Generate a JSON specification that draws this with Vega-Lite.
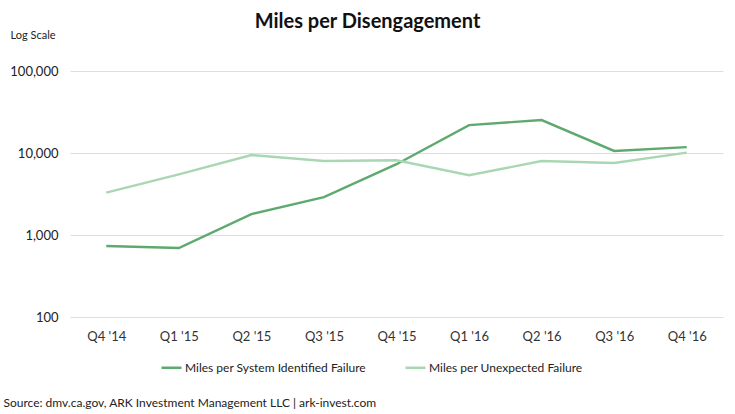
{
  "$schema": "https://vega.github.io/schema/vega-lite/v6.json",
  "width": 653,
  "height": 246,
  "autosize": {"type": "none"},
  "padding": {"left": 70, "top": 71, "right": 12, "bottom": 97},
  "background": "white",
  "config": {
    "view": {"stroke": null},
    "font": "Lato"
  },
  "title": {
    "text": "Miles per Disengagement",
    "anchor": "middle",
    "frame": "group",
    "dx": -29,
    "offset": -3,
    "fontSize": 20,
    "fontWeight": "bold",
    "font": "Lato",
    "color": "#111111"
  },
  "data": {
    "values": [
      {"quarter": "Q4 '14", "series": "Miles per System Identified Failure", "miles": 734},
      {"quarter": "Q1 '15", "series": "Miles per System Identified Failure", "miles": 694},
      {"quarter": "Q2 '15", "series": "Miles per System Identified Failure", "miles": 1800},
      {"quarter": "Q3 '15", "series": "Miles per System Identified Failure", "miles": 2900},
      {"quarter": "Q4 '15", "series": "Miles per System Identified Failure", "miles": 7300},
      {"quarter": "Q1 '16", "series": "Miles per System Identified Failure", "miles": 21900},
      {"quarter": "Q2 '16", "series": "Miles per System Identified Failure", "miles": 25200},
      {"quarter": "Q3 '16", "series": "Miles per System Identified Failure", "miles": 10600},
      {"quarter": "Q4 '16", "series": "Miles per System Identified Failure", "miles": 11800},
      {"quarter": "Q4 '14", "series": "Miles per Unexpected Failure", "miles": 3280},
      {"quarter": "Q1 '15", "series": "Miles per Unexpected Failure", "miles": 5500},
      {"quarter": "Q2 '15", "series": "Miles per Unexpected Failure", "miles": 9460},
      {"quarter": "Q3 '15", "series": "Miles per Unexpected Failure", "miles": 7990},
      {"quarter": "Q4 '15", "series": "Miles per Unexpected Failure", "miles": 8150},
      {"quarter": "Q1 '16", "series": "Miles per Unexpected Failure", "miles": 5350},
      {"quarter": "Q2 '16", "series": "Miles per Unexpected Failure", "miles": 7990},
      {"quarter": "Q3 '16", "series": "Miles per Unexpected Failure", "miles": 7550},
      {"quarter": "Q4 '16", "series": "Miles per Unexpected Failure", "miles": 10090}
    ]
  },
  "mark": {"type": "line", "strokeWidth": 2.4},
  "encoding": {
    "x": {
      "field": "quarter",
      "type": "ordinal",
      "sort": null,
      "scale": {"type": "point", "padding": 0.5},
      "axis": {
        "title": "Source: dmv.ca.gov, ARK Investment Management LLC | ark-invest.com",
        "titleX": -67,
        "titleY": 85,
        "titleAlign": "left",
        "titleBaseline": "middle",
        "titleFontSize": 12,
        "titleFontWeight": "normal",
        "titleColor": "#222222",
        "labelAngle": 0,
        "labelFontSize": 13,
        "labelColor": "#333333",
        "labelPadding": 13,
        "ticks": false,
        "domain": false,
        "grid": false
      }
    },
    "y": {
      "field": "miles",
      "type": "quantitative",
      "scale": {"type": "log", "domain": [100, 100000], "nice": false},
      "axis": {
        "title": "Log Scale",
        "titleAngle": 0,
        "titleX": -60,
        "titleY": -36,
        "titleAlign": "left",
        "titleBaseline": "middle",
        "titleFontSize": 11,
        "titleFontWeight": "normal",
        "titleColor": "#222222",
        "values": [100, 1000, 10000, 100000],
        "format": ",",
        "labelFontSize": 13,
        "labelColor": "#222222",
        "labelPadding": 12,
        "ticks": false,
        "domain": false,
        "grid": true,
        "gridColor": "#dddddd",
        "gridWidth": 1.2
      }
    },
    "color": {
      "field": "series",
      "type": "nominal",
      "scale": {
        "domain": ["Miles per System Identified Failure", "Miles per Unexpected Failure"],
        "range": ["#5eaa6e", "#aad7b3"]
      },
      "legend": {
        "title": null,
        "orient": "none",
        "direction": "horizontal",
        "legendX": 90,
        "legendY": 285,
        "symbolType": "stroke",
        "symbolSize": 400,
        "symbolStrokeWidth": 2.5,
        "labelFontSize": 12,
        "labelColor": "#222222",
        "labelOffset": 2,
        "labelLimit": 300,
        "columnPadding": 34
      }
    }
  }
}
